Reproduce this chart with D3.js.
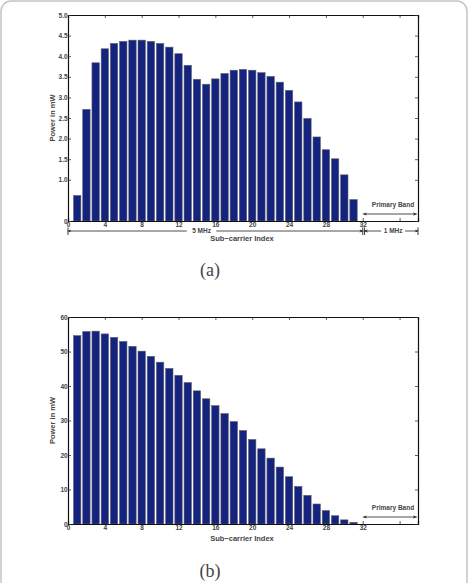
<!DOCTYPE html>
<html>
<head>
<meta charset="utf-8">
<script src="https://cdn.jsdelivr.net/npm/d3@7"></script>
<style>
  body { margin: 0; background: #fff; }
  text { font-family: "Liberation Sans", Arial, sans-serif; }
</style>
</head>
<body>
<div id="chart-area"></div>
<script>
// sub-carrier indices and power (mW)
var subCarriers = d3.range(1, 32);
var powerA = [0.62, 2.71, 3.84, 4.18, 4.31, 4.36, 4.39, 4.39, 4.36, 4.31,
              4.22, 4.06, 3.78, 3.44, 3.32, 3.45, 3.58, 3.66, 3.68, 3.66,
              3.60, 3.51, 3.37, 3.17, 2.89, 2.49, 2.04, 1.73, 1.51, 1.12, 0.52];
var powerB = [54.6, 55.8, 55.9, 55.1, 54.1, 52.9, 51.5, 50.1, 48.6, 46.9,
              45.1, 43.1, 41.0, 38.6, 36.3, 34.3, 32.0, 29.7, 27.1, 24.5,
              21.8, 19.1, 16.5, 13.7, 10.9, 8.3, 5.8, 3.9, 2.4, 1.2, 0.5];
var xTicks = [0, 4, 8, 12, 16, 20, 24, 28, 32, 36];
var xTickLabels = ["0", "4", "8", "12", "16", "20", "24", "28", "32", ""];
var yTicksA = [0, 1, 1.5, 2, 2.5, 3, 3.5, 4, 4.5, 5];
var yTicksB = [0, 10, 20, 30, 40, 50, 60];

var W = 469, H = 583;
var svg = d3.select("#chart-area").append("svg")
    .attr("width", W).attr("height", H);

// outer frame of the figure
svg.append("rect")
    .attr("x", 1).attr("y", 1).attr("width", W - 3).attr("height", H + 20)
    .attr("rx", 10)
    .attr("fill", "none").attr("stroke", "#c4c4c4").attr("stroke-width", 1.5);

var defs = svg.append("defs");
function marker(id, d) {
  defs.append("marker")
      .attr("id", id)
      .attr("viewBox", "0 0 10 10")
      .attr("refX", 5).attr("refY", 5)
      .attr("markerWidth", 6).attr("markerHeight", 6)
      .attr("orient", "auto-start-reverse")
      .append("path")
      .attr("d", d)
      .attr("fill", "#222");
}
marker("arr", "M0,2 L10,5 L0,8 L3,5 Z");

function drawPanel(opt) {
  var left = 68, right = 418;
  var x = d3.scaleLinear().domain([0, 38]).range([left, right]);
  var y = d3.scaleLinear().domain(opt.yDomain).range([opt.bottom, opt.top]);
  var g = svg.append("g");
  var bw = x(0.8) - x(0);

  g.selectAll("rect.bar")
      .data(opt.values)
      .enter()
      .append("rect")
      .attr("class", "bar")
      .attr("x", function (d, i) { return x(subCarriers[i]) - bw / 2; })
      .attr("y", function (d) { return y(d); })
      .attr("width", bw)
      .attr("height", function (d) { return y(0) - y(d); })
      .attr("fill", "#14237e")
      .attr("stroke", "#5d6070")
      .attr("stroke-width", 0.6);

  // matlab style box with inward ticks
  var bottomAx = d3.axisBottom(x).tickValues(xTicks).tickSize(-3)
      .tickFormat(function (d, i) { return xTickLabels[i]; });
  var topAx = d3.axisTop(x).tickValues(xTicks).tickSize(-3).tickFormat("");
  var leftAx = d3.axisLeft(y).tickValues(opt.yTicks).tickSize(-3)
      .tickFormat(opt.yFormat);
  var rightAx = d3.axisRight(y).tickValues(opt.yTicks).tickSize(-3).tickFormat("");

  function style(sel) {
    sel.select(".domain").attr("stroke", "#111").attr("stroke-width", 1.2);
    sel.selectAll(".tick line").attr("stroke", "#333").attr("stroke-width", 0.8);
    sel.selectAll("text")
        .attr("font-size", "6.5px")
        .attr("font-weight", "bold")
        .attr("fill", "#444");
  }

  g.append("g").attr("transform", "translate(0," + opt.bottom + ")")
      .call(bottomAx).call(style)
      .selectAll("text").attr("dy", "0.45em");
  g.append("g").attr("transform", "translate(0," + opt.top + ")")
      .call(topAx).call(style);
  g.append("g").attr("transform", "translate(" + left + ",0)")
      .call(leftAx).call(style)
      .selectAll("text").attr("dx", "0.4em");
  g.append("g").attr("transform", "translate(" + right + ",0)")
      .call(rightAx).call(style);

  // y label
  g.append("text")
      .attr("transform", "translate(55," + ((opt.top + opt.bottom) / 2) + ") rotate(-90)")
      .attr("text-anchor", "middle")
      .attr("font-size", "7.5px")
      .attr("font-weight", "bold")
      .attr("fill", "#444")
      .text("Power in mW");

  // x label
  g.append("text")
      .attr("x", 242)
      .attr("y", opt.bottom + opt.xLabelDy)
      .attr("text-anchor", "middle")
      .attr("font-size", "7.5px")
      .attr("font-weight", "bold")
      .attr("fill", "#444")
      .text("Sub\u2212carrier Index");

  // primary band annotation
  g.append("text")
      .attr("x", 393)
      .attr("y", opt.bottom - 14)
      .attr("text-anchor", "middle")
      .attr("font-size", "6.5px")
      .attr("font-weight", "bold")
      .attr("fill", "#444")
      .text("Primary Band");
  g.append("line")
      .attr("x1", x(32.2)).attr("x2", x(37.7))
      .attr("y1", opt.bottom - 7).attr("y2", opt.bottom - 7)
      .attr("stroke", "#222").attr("stroke-width", 0.8)
      .attr("marker-start", "url(#arr)")
      .attr("marker-end", "url(#arr)");

  // panel caption
  svg.append("text")
      .attr("x", 210)
      .attr("y", opt.captionY)
      .attr("text-anchor", "middle")
      .style("font-family", "'Liberation Serif', 'DejaVu Serif', serif")
      .attr("font-size", "18px")
      .attr("fill", "#444")
      .text(opt.caption);

  return { g: g, x: x };
}

var pa = drawPanel({
  values: powerA, yDomain: [0, 5], yTicks: yTicksA,
  yFormat: function (d) { return d === 0 ? "0" : d3.format(".1f")(d); },
  top: 15, bottom: 221, xLabelDy: 19.5, caption: "(a)", captionY: 276
});

drawPanel({
  values: powerB, yDomain: [0, 60], yTicks: yTicksB,
  yFormat: d3.format("d"),
  top: 317, bottom: 524, xLabelDy: 16.5, caption: "(b)", captionY: 577
});

// bandwidth arrows under panel (a)
var xa = pa.x, ya = 231;
var bands = [
  { from: 0, to: 32, label: "5 MHz", gapA: 12.9, gapB: 16.1, lx: 14.5 },
  { from: 32.2, to: 38, label: "1 MHz", gapA: 34.0, gapB: 36.6, lx: 35.3 }
];
bands.forEach(function (b) {
  pa.g.append("line")
      .attr("x1", xa(b.from) + 1).attr("x2", xa(b.gapA))
      .attr("y1", ya).attr("y2", ya)
      .attr("stroke", "#222").attr("stroke-width", 0.8)
      .attr("marker-start", "url(#arr)");
  pa.g.append("line")
      .attr("x1", xa(b.gapB)).attr("x2", xa(b.to) - 1)
      .attr("y1", ya).attr("y2", ya)
      .attr("stroke", "#222").attr("stroke-width", 0.8)
      .attr("marker-end", "url(#arr)");
  [b.from, b.to].forEach(function (v) {
    pa.g.append("line")
        .attr("x1", xa(v)).attr("x2", xa(v))
        .attr("y1", ya - 3.5).attr("y2", ya + 4)
        .attr("stroke", "#222").attr("stroke-width", 0.9);
  });
  pa.g.append("text")
      .attr("x", xa(b.lx))
      .attr("y", ya + 2.3)
      .attr("text-anchor", "middle")
      .attr("font-size", "6.5px")
      .attr("font-weight", "bold")
      .attr("fill", "#444")
      .text(b.label);
});
</script>
</body>
</html>
